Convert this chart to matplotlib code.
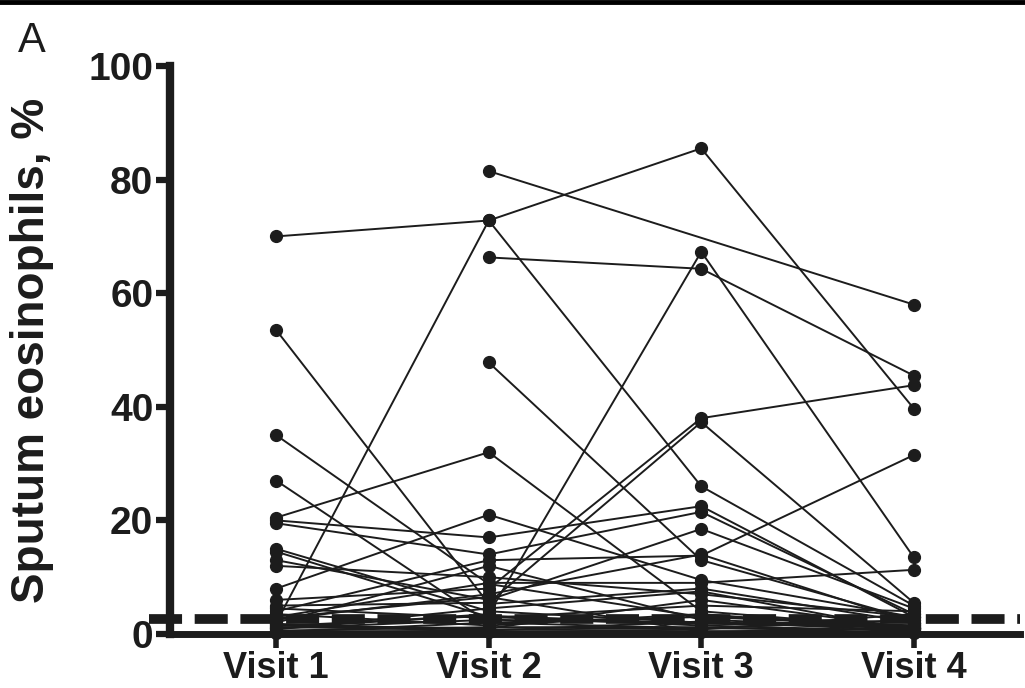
import numpy as np
import matplotlib.pyplot as plt
from matplotlib.lines import Line2D

nan = np.nan

visits = ["Visit 1", "Visit 2", "Visit 3", "Visit 4"]

# sputum eosinophils (%) per patient, one list per visit (nan = missing)
visit1 = [70.0, 2.0, nan, nan, 1.0, nan, 53.5, 35.0, 27.0, 20.5, 20.0, 8.0,
          19.5, 15.0, 14.5, 13.0, 12.0, 6.0, 5.0, 4.0, 3.0, 2.5, 1.5, 1.0,
          0.5, 3.5, 2.0, 1.2, 0.8, 0.3, 1.8, 0.6, 2.8, 0.2, 4.5, 1.4]
visit2 = [72.8, 72.8, 81.5, 66.3, 3.5, 47.8, 5.3, 8.8, 2.0, 32.0, 17.0, 21.0,
          14.0, 4.0, 3.0, 6.0, 10.0, 8.0, 5.5, 13.0, 9.0, 7.0, 1.0, 2.5,
          0.5, 1.5, 12.0, 0.8, 4.5, 2.0, 0.3, 1.2, 6.5, 0.6, 2.8, 3.2]
visit3 = [85.5, 26.0, nan, 64.3, 67.3, 13.0, 8.0, 3.0, 1.0, 4.0, 22.5, 9.5,
          21.5, 2.0, 1.5, 18.5, 7.0, 38.0, 37.3, 13.8, 9.0, 14.0, 6.0, 2.0,
          0.5, 3.5, 2.5, 1.0, 7.5, 3.0, 0.8, 1.2, 0.4, 2.2, 5.0, 1.8]
visit4 = [39.7, 5.0, 58.0, 45.5, 13.5, 2.5, 2.0, 1.5, 0.8, 1.0, 3.0, 3.0,
          3.5, 1.0, 0.5, 4.5, 3.0, 43.8, 5.5, 31.5, 11.3, 2.0, 1.0, 1.5,
          0.3, 0.8, 1.2, 2.5, 0.5, 2.0, 3.5, 0.2, 1.0, 0.6, 4.0, 1.4]

cutoff = 2.7

plt.rcParams['font.family'] = ['Liberation Sans', 'DejaVu Sans']

fig = plt.figure(figsize=(10.25, 6.88), dpi=100)
ax = fig.add_axes([170 / 1025, 1 - 634 / 688, 850 / 1025, 568 / 688])

data = np.array([visit1, visit2, visit3, visit4])
xs = np.arange(1, 5)
ink = "#1c1c1c"
for col in data.T:
    ok = np.isfinite(col)
    ax.plot(xs[ok], col[ok], color=ink, lw=1.4, marker="o", ms=8.5,
            mec=ink, mfc=ink, clip_on=False, zorder=3)

# normal cut-off
ax.plot([0.40, 4.5], [cutoff, cutoff], color=ink, lw=7, dashes=(3.4, 1.3),
        clip_on=False, zorder=4)

ax.set_xlim(0.5, 4.5)
ax.set_ylim(0, 100)
ax.set_xticks(xs)
ax.set_xticklabels(visits)
ax.set_yticks([0, 20, 40, 60, 80, 100])

for s in ["top", "right"]:
    ax.spines[s].set_visible(False)
ax.spines["left"].set_linewidth(6)
ax.spines["bottom"].set_linewidth(5)
ax.spines["left"].set_color(ink)
ax.spines["bottom"].set_color(ink)

ax.tick_params(axis="y", length=10, width=4.5, color=ink, pad=2,
               labelsize=28)
ax.tick_params(axis="x", length=10, width=4, color=ink, pad=2,
               labelsize=26)
for lab in ax.get_xticklabels() + ax.get_yticklabels():
    lab.set_fontweight("bold")
    lab.set_color(ink)

ax.set_ylabel("Sputum eosinophils, %", fontsize=33, fontweight="bold",
              color=ink)
ax.yaxis.set_label_coords(-0.137, 0.5)

fig.text(18 / 1025, 1 - 52 / 688, "A", fontsize=30, color=ink,
         ha="left", va="baseline")
fig.add_artist(Line2D([0, 1], [1 - 2 / 688, 1 - 2 / 688], color="black",
                      lw=3.5))

fig.savefig("out.png", dpi=100)
